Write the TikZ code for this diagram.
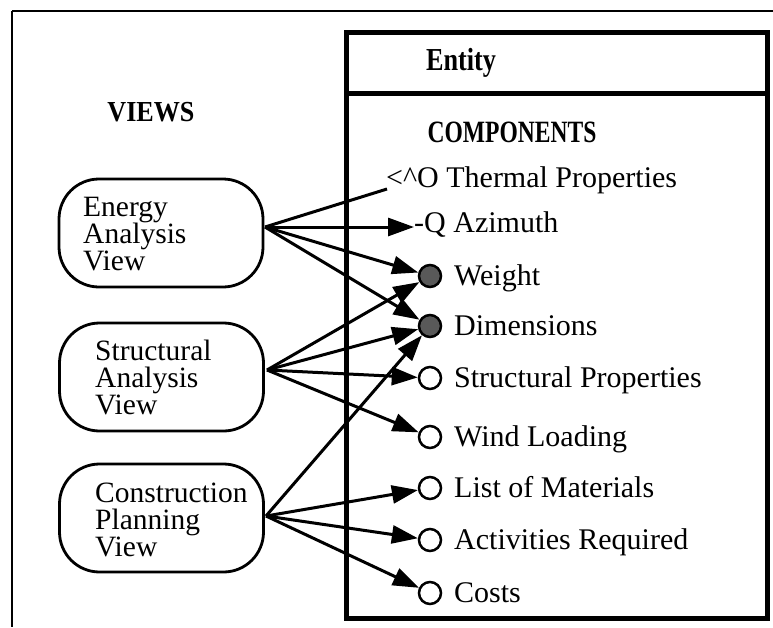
\documentclass[tikz,border=0pt]{standalone}
\usepackage{fontspec}
\usepackage{graphicx}
\setmainfont{Liberation Serif}
\usetikzlibrary{arrows.meta}
\begin{document}
\begin{tikzpicture}[x=1pt,y=-1pt,
 frame/.style={line width=2.5pt},
 entitybox/.style={line width=5pt},
 viewbox/.style={draw, line width=2.8pt, rounded corners=40pt, minimum width=204pt, minimum height=108pt, inner sep=0pt},
 viewtext/.style={anchor=north west, align=left, inner sep=0pt, font=\fontsize{29.5}{27}\selectfont},
 comp/.style={circle, draw, line width=2.5pt, minimum size=22pt, inner sep=0pt, fill=white},
 filledcomp/.style={comp, fill=black!65},
 comptext/.style={anchor=base west, inner sep=0pt, font=\fontsize{30}{30}\selectfont},
 link/.style={line width=3pt},
 arr/.style={link, -{Triangle[length=26pt,width=18pt]}},
 header/.style={inner sep=0pt, font=\bfseries},
]
\useasboundingbox (0,0) rectangle (773,627);
% outer frame
\draw[frame] (12,11) -- (773,11);
\draw[frame] (12,11) -- (12,627);

% headers
\node[header, font=\fontsize{29}{29}\selectfont\bfseries] (views) at (151,112) {\scalebox{0.9}[1]{VIEWS}};
\node[header, font=\fontsize{32}{32}\selectfont\bfseries] (entity) at (461,63) {\scalebox{0.82}[1]{Entity}};
\node[header, font=\fontsize{31}{31}\selectfont\bfseries] (components) at (512,132) {\scalebox{0.76}[1]{COMPONENTS}};

% view boxes
\node[viewbox] (energy) at (161,233) {};
\node[viewbox] (structural) at (161.5,377) {};
\node[viewbox] (construction) at (161.5,518) {};
\node[viewtext] (energyT) at (83,197) {Energy\\Analysis\\View};
\node[viewtext] (structuralT) at (95,340) {Structural\\Analysis\\View};
\node[viewtext] (constructionT) at (95,483) {Construction\\Planning\\View};

\coordinate (eO) at (265,227);
\coordinate (sO) at (267,370);
\coordinate (cO) at (266,516);

% components
\node[comptext] (thermal) at (386,187) {<\^{}O Thermal Properties};
\coordinate (thermalEnd) at (387,189);
\node[comptext] (azimuth) at (414,232) {-Q Azimuth};
\node[filledcomp] (weight) at (430,276) {};
\node[filledcomp] (dimensions) at (430,326) {};
\node[comp] (structprops) at (430,378) {};
\node[comp] (wind) at (430,437) {};
\node[comp] (materials) at (430,488) {};
\node[comp] (activities) at (430,540) {};
\node[comp] (costs) at (430,593) {};
\node[comptext] (weightT) at (454,285) {Weight};
\node[comptext] (dimensionsT) at (454,335) {Dimensions};
\node[comptext] (structpropsT) at (454,387) {Structural Properties};
\node[comptext] (windT) at (454,446) {Wind Loading};
\node[comptext] (materialsT) at (454,497) {List of Materials};
\node[comptext] (activitiesT) at (454,549) {Activities Required};
\node[comptext] (costsT) at (454,602) {Costs};

% connectors
\draw[link] (eO) -- (thermalEnd);
\draw[arr] (eO) -- (azimuth.west |- eO);
\draw[arr] (eO) -- (weight);
\draw[arr] (eO) -- (dimensions);
\draw[arr] (sO) -- (weight);
\draw[arr] (sO) -- (dimensions);
\draw[arr] (sO) -- (structprops);
\draw[arr] (sO) -- (wind);
\draw[arr] (cO) -- (dimensions);
\draw[arr] (cO) -- (materials);
\draw[arr] (cO) -- (activities);
\draw[arr] (cO) -- (costs);

% entity box
\draw[entitybox] (346,32) rectangle (767,618);
\draw[entitybox] (346,93) -- (767,93);
\end{tikzpicture}
\end{document}
